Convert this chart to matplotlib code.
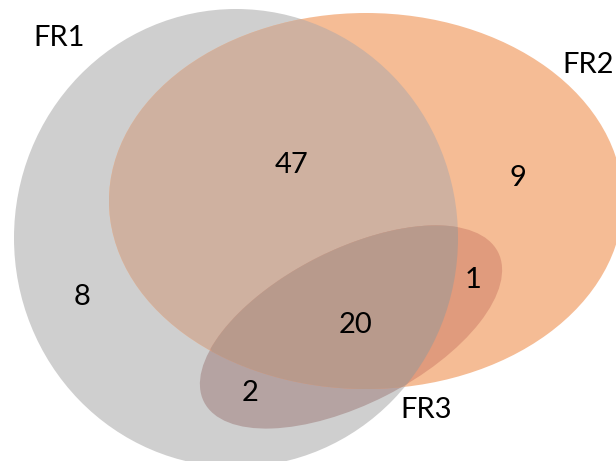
import numpy as np
import matplotlib.pyplot as plt
from matplotlib.patches import Ellipse, Polygon

# data
set_names = ['FR1', 'FR2', 'FR3']
region_keys = ['100', '010', '110', '111', '011', '101']
region_counts = [8, 9, 47, 20, 1, 2]

# layout (pixel coords, y downwards)
shapes = {
    'FR1': dict(xy=(236, 238), w=444, h=458, ang=0),
    'FR2': dict(xy=(366, 201), w=514, h=376, ang=0),
    'FR3': dict(xy=(351, 327), w=330, h=154, ang=-27),
}
name_pos = {'FR1': (59, 38), 'FR2': (588, 65), 'FR3': (426, 410)}
count_pos = {'100': (82, 297), '010': (518, 178), '110': (292, 165),
             '111': (355, 325), '011': (473, 280), '101': (250, 393)}

c_gray = '#cfcfcf'
c_orange = '#f5bc95'
c_12 = '#cfb1a0'
c_13 = '#b5a3a2'
c_23 = '#e09b7d'
c_123 = '#b89a8c'

plt.rcParams['font.family'] = ['Lato', 'DejaVu Sans']

fig = plt.figure(figsize=(6.16, 4.61), dpi=100)
ax = fig.add_axes([0, 0, 1, 1])
ax.set_xlim(0, 616)
ax.set_ylim(461, 0)
ax.set_aspect('equal')
ax.axis('off')


def ell(name, color, clip=None, z=1):
    s = shapes[name]
    e = Ellipse(s['xy'], s['w'], s['h'], angle=s['ang'], fc=color, ec='none', zorder=z)
    ax.add_patch(e)
    if clip is not None:
        e.set_clip_path(clip)
    return e


def boundary(name, n=400):
    s = shapes[name]
    t = np.linspace(0, 2*np.pi, n, endpoint=False)
    a = np.deg2rad(s['ang'])
    x = s['w']/2*np.cos(t); y = s['h']/2*np.sin(t)
    return np.c_[s['xy'][0] + x*np.cos(a) - y*np.sin(a),
                 s['xy'][1] + x*np.sin(a) + y*np.cos(a)]


def inside(name, p):
    s = shapes[name]
    a = np.deg2rad(s['ang'])
    dx = p[:, 0] - s['xy'][0]; dy = p[:, 1] - s['xy'][1]
    u = dx*np.cos(a) + dy*np.sin(a)
    v = -dx*np.sin(a) + dy*np.cos(a)
    return (u/(s['w']/2))**2 + (v/(s['h']/2))**2 <= 1


g = ell('FR1', c_gray, z=1)
o = ell('FR2', c_orange, z=2)
ell('FR2', c_12, clip=g, z=3)
ell('FR3', c_13, clip=g, z=4)
ell('FR3', c_23, clip=o, z=5)

# FR3 ∩ FR2 polygon, clipped to FR1 -> triple overlap
b3 = boundary('FR3'); b2 = boundary('FR2')
pts = np.vstack([b3[inside('FR2', b3)], b2[inside('FR3', b2)]])
cen = pts.mean(axis=0)
pts = pts[np.argsort(np.arctan2(pts[:, 1]-cen[1], pts[:, 0]-cen[0]))]
tri = Polygon(pts, closed=True, fc=c_123, ec='none', zorder=6)
ax.add_patch(tri)
tri.set_clip_path(g)

for nm in set_names:
    ax.text(*name_pos[nm], nm, fontsize=21, ha='center', va='center', zorder=10)
for k, c in zip(region_keys, region_counts):
    ax.text(*count_pos[k], str(c), fontsize=21, ha='center', va='center', zorder=10)

fig.savefig('out.png', dpi=100)
